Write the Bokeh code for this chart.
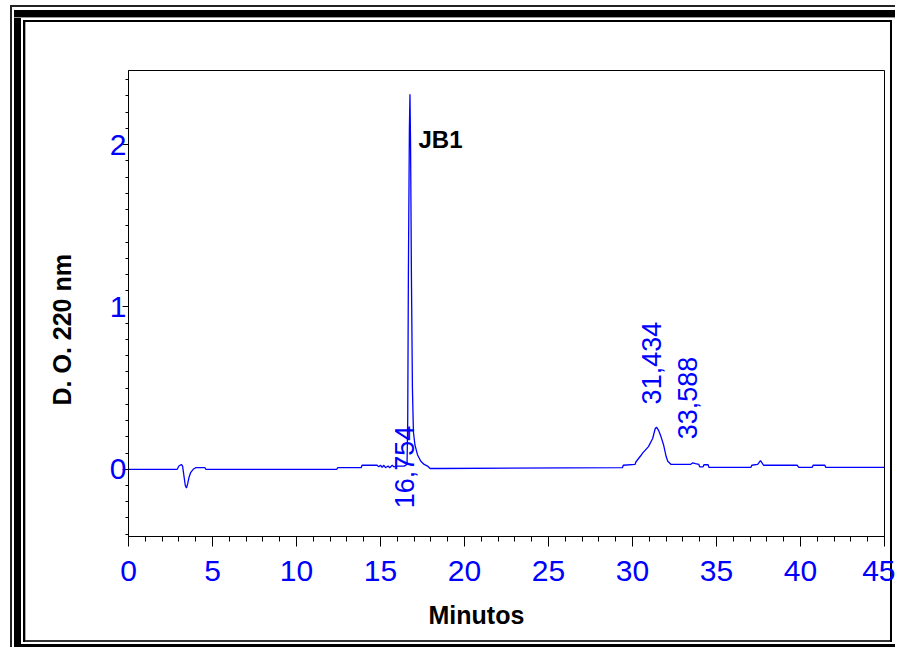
import numpy as np
from bokeh.plotting import figure
from bokeh.models import Range1d, FixedTicker, Label, Title
from bokeh.core.properties import value
from bokeh.embed import file_html
from bokeh.resources import INLINE

# ---- data ----
time_min = [0.0, 2.9, 3.0, 3.15, 3.22, 3.3, 3.38, 3.45, 3.52, 3.6, 3.7, 3.85, 4.0, 4.55, 4.6,
            12.4, 12.45, 13.85, 13.9, 14.8, 14.9, 15.0, 15.1, 15.2, 15.3, 15.45, 15.55, 15.7,
            15.8, 16.0, 16.4, 16.58, 16.62, 16.66, 16.72, 16.754, 16.79, 16.84, 16.9, 16.96,
            17.05, 17.2, 17.4, 17.6, 17.8, 17.95, 18.5,
            29.4, 29.45, 30.15, 30.2, 30.5, 30.6, 30.95, 31.2, 31.35, 31.43, 31.55, 31.7, 31.85,
            32.0, 32.1, 32.3, 33.45, 33.59, 33.75, 33.95, 34.0, 34.2, 34.25, 34.5, 34.55,
            37.05, 37.1, 37.45, 37.62, 37.8, 39.8, 39.9, 40.7, 40.75, 41.45, 41.5, 45.0]
absorbance = [0.0, 0.0, 0.02, 0.03, 0.02, -0.04, -0.10, -0.115, -0.09, -0.05, -0.02, 0.0, 0.01, 0.01, 0.0,
              0.0, 0.01, 0.01, 0.025, 0.025, 0.015, 0.025, 0.012, 0.025, 0.01, 0.02, 0.01, 0.025,
              0.015, 0.02, 0.02, 0.03, 0.3, 1.2, 2.1, 2.31, 2.0, 1.2, 0.5, 0.23,
              0.15, 0.09, 0.05, 0.03, 0.02, 0.005, 0.005,
              0.01, 0.025, 0.03, 0.045, 0.085, 0.1, 0.14, 0.19, 0.25, 0.26, 0.24, 0.2, 0.15,
              0.08, 0.05, 0.03, 0.03, 0.04, 0.035, 0.03, 0.015, 0.015, 0.028, 0.028, 0.012,
              0.012, 0.025, 0.03, 0.054, 0.025, 0.025, 0.012, 0.012, 0.025, 0.025, 0.012, 0.012]

peak_labels = ["16,754", "31,434", "33,588"]
peak_label_x = [16.45, 31.15, 33.3]
peak_label_y = [-0.24, 0.40, 0.185]

x_ticks = [0, 5, 10, 15, 20, 25, 30, 35, 40, 45]
y_ticks = [0, 1, 2]
x_minor = list(range(0, 46))
y_minor = [round(-0.4 + 0.1 * i, 1) for i in range(29)]

FONT = "Liberation Sans"
BLUE = "#0000ff"
W, H = 895, 647

p = figure(width=W, height=H, output_backend="svg", toolbar_location=None,
           x_range=Range1d(0, 45), y_range=Range1d(-0.414, 2.457),
           min_border_left=128, min_border_right=W - 884, min_border_top=70,
           min_border_bottom=H - 536)
p.background_fill_color = "white"
p.border_fill_color = None
p.xgrid.visible = False
p.ygrid.visible = False
p.outline_line_color = "black"
p.outline_line_width = 1

# decorative page border drawn behind the (transparent) canvas border
border_rects = [  # (x, y, w, h, colour)
    (10, 5, W - 10, 2, "#222222"),
    (10, 5, 2, H - 5, "#222222"),
    (14, 10, W - 14, 7, "black"),
    (14, 17, W - 14, 1, "#999999"),
    (14, 10, 7, H - 10, "black"),
    (14, 644, W - 14, 3, "black"),
    (23, 20, W - 23 - 3, 2, "black"),
    (23, 20, 2, 642 - 20, "black"),
    (25, 22, 1, 640 - 22, "#aaaaaa"),
    (W - 5, 20, 2, 642 - 20, "black"),
    (23, 640, W - 23 - 3, 2, "#333333"),
]
p.styles = {
    "background-color": "white",
    "background-image": ", ".join(f"linear-gradient({c}, {c})" for *_, c in border_rects),
    "background-size": ", ".join(f"{w}px {h}px" for _, _, w, h, _ in border_rects),
    "background-position": ", ".join(f"{x}px {y}px" for x, y, _, _, _ in border_rects),
    "background-repeat": "no-repeat",
}

p.xaxis.ticker = FixedTicker(ticks=x_ticks, minor_ticks=x_minor)
p.yaxis.ticker = FixedTicker(ticks=y_ticks, minor_ticks=y_minor)
for ax in (p.xaxis, p.yaxis):
    ax.axis_line_color = "black"
    ax.major_tick_line_color = "black"
    ax.minor_tick_line_color = "black"
    ax.major_tick_in = 0
    ax.minor_tick_in = 0
    ax.major_label_text_font = FONT
    ax.major_label_text_font_size = "30px"
    ax.major_label_text_color = BLUE
p.xaxis.major_tick_out = 10
p.xaxis.minor_tick_out = 5
p.xaxis.major_label_standoff = 14
p.yaxis.major_tick_out = 6
p.yaxis.minor_tick_out = 3
p.yaxis.major_label_standoff = -4

p.line(time_min, absorbance, line_color=BLUE, line_width=1.3)

p.text(x=peak_label_x, y=peak_label_y, text=peak_labels, angle=np.pi / 2,
       text_align="left", text_baseline="middle", text_font=value(FONT),
       text_font_size="27px", text_color=BLUE)

p.add_layout(Label(x=17.26, y=2.03, text="JB1", text_font=FONT, text_font_size="24px",
                   text_font_style="bold", text_color="black", text_baseline="middle",
                   text_align="left"))

p.add_layout(Title(text="Minutos", align="left", offset=300, standoff=30,
                   text_font=FONT, text_font_size="25px", text_font_style="bold",
                   text_color="black"), "below")
p.add_layout(Title(text="D. O. 220 nm", align="left", offset=131, standoff=62,
                   text_font=FONT, text_font_size="25px", text_font_style="bold",
                   text_color="black"), "left")

open("out.html", "w").write(file_html(p, INLINE))
